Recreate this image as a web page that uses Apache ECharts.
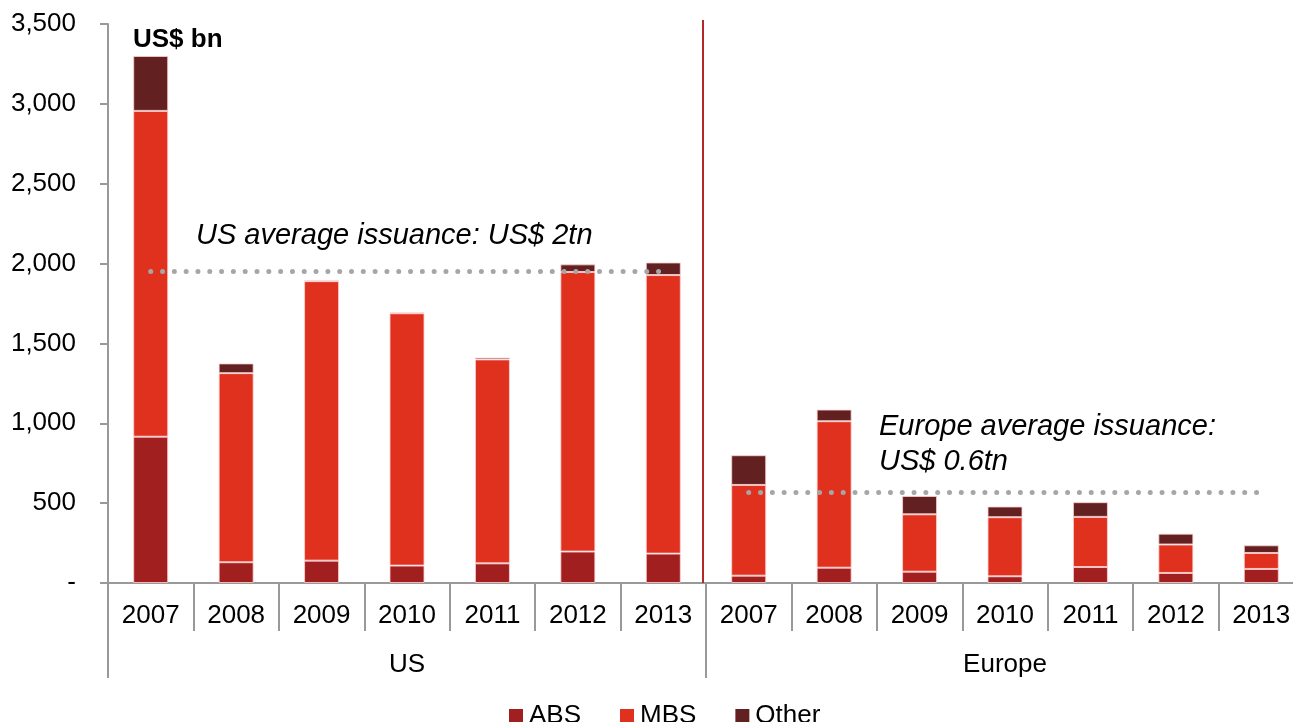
<!DOCTYPE html>
<html>
<head>
<meta charset="utf-8">
<script src="https://cdn.jsdelivr.net/npm/echarts@6/dist/echarts.min.js"></script>
<style>
html,body{margin:0;padding:0;background:#fff;}
#chart{width:1293px;height:722px;}
</style>
</head>
<body>
<div id="chart"></div>
<script>
var years = ['2007','2008','2009','2010','2011','2012','2013','2007','2008','2009','2010','2011','2012','2013'];
var regions = ['US','Europe'];
var absValues   = [916, 130, 140, 109, 123, 197, 184,   46, 96, 71, 42, 100, 63, 88];
var mbsValues   = [2040, 1184, 1750, 1580, 1277, 1750, 1744,   568, 917, 359, 370, 314, 178, 100];
var otherValues = [344, 61, 5, 5, 12, 48, 79,   186, 73, 115, 67, 92, 68, 48];
var usAverage = 1953;
var europeAverage = 568;
var yTicks = [0, 500, 1000, 1500, 2000, 2500, 3000, 3500];

var FONT = '"Liberation Sans", Arial, sans-serif';
var chart = echarts.init(document.getElementById('chart'));

var dotStyle = {color:'#a6a6a6', width:5, type:[0.01, 11.8], cap:'round'};

var option = {
  animation:false,
  textStyle:{fontFamily:FONT},
  grid:{left:108, top:24, width:1196, height:559, containLabel:false, outerBoundsMode:'none'},
  legend:{
    left:504, top:697, itemWidth:14, itemHeight:14, itemGap:39,
    icon:'rect',
    itemStyle:{borderWidth:0},
    textStyle:{fontFamily:FONT, fontSize:26, color:'#000', lineHeight:28, padding:[0,0,0,1]},
    data:['ABS','MBS','Other']
  },
  xAxis:[
    {type:'category', data:years, position:'bottom',
     axisLine:{show:true, lineStyle:{color:'#999', width:2}},
     axisTick:{show:true, interval:0, length:48, lineStyle:{color:'#999', width:2}},
     axisLabel:{interval:0, fontSize:26, color:'#000', fontFamily:FONT, margin:20}},
    {type:'category', data:regions, position:'bottom',
     axisLine:{show:false},
     axisTick:{show:true, interval:0, length:95, lineStyle:{color:'#999', width:2}},
     axisLabel:{interval:0, fontSize:26, color:'#000', fontFamily:FONT, margin:69}}
  ],
  yAxis:{
    type:'value', min:yTicks[0], max:yTicks[yTicks.length-1], interval:500,
    splitLine:{show:false},
    axisLine:{show:true, lineStyle:{color:'#999', width:2}},
    axisTick:{show:true, length:8, lineStyle:{color:'#999', width:2}},
    axisLabel:{fontSize:26, color:'#000', fontFamily:FONT, margin:32,
      formatter:function(v){return v===0?'-':v.toLocaleString('en-US');}}
  },
  series:[
    {name:'ABS', type:'bar', stack:'t', data:absValues, barWidth:35,
     itemStyle:{color:'#a21f20', borderColor:'rgba(255,210,210,0.8)', borderWidth:1}},
    {name:'MBS', type:'bar', stack:'t', data:mbsValues, barWidth:35,
     itemStyle:{color:'#e0311f', borderColor:'rgba(255,210,210,0.8)', borderWidth:1},
     markLine:{silent:true, symbol:'none', label:{show:false}, lineStyle:dotStyle,
       data:[
         [{coord:[0, usAverage]},{coord:[6, usAverage]}],
         [{coord:[7, europeAverage]},{coord:[13, europeAverage]}]
       ]}},
    {name:'Other', type:'bar', stack:'t', data:otherValues, barWidth:35,
     itemStyle:{color:'#622021', borderColor:'rgba(255,210,210,0.8)', borderWidth:1}}
  ]
};
chart.setOption(option);

var p6 = chart.convertToPixel({xAxisIndex:0}, 6);
var p7 = chart.convertToPixel({xAxisIndex:0}, 7);
var sepX = (p6 + p7) / 2 - 3;
var yTop = chart.convertToPixel({yAxisIndex:0}, 3500) - 4;
var yBot = chart.convertToPixel({yAxisIndex:0}, 0);

chart.setOption({
  graphic:[
    {type:'line', shape:{x1:sepX, y1:yTop, x2:sepX, y2:yBot}, style:{stroke:'#b3282a', lineWidth:2}, z:10},
    {type:'text', left:133, top:27, style:{text:'US$ bn', fontFamily:FONT, fontSize:26, fontWeight:'bold', fill:'#000'}},
    {type:'text', left:196, top:221, style:{text:'US average issuance: US$ 2tn', fontFamily:FONT, fontSize:29, fontStyle:'italic', fill:'#000'}},
    {type:'text', left:879, top:409, style:{text:'Europe average issuance:\nUS$ 0.6tn', fontFamily:FONT, fontSize:29, fontStyle:'italic', fill:'#000', lineHeight:35}}
  ]
});
</script>
</body>
</html>
